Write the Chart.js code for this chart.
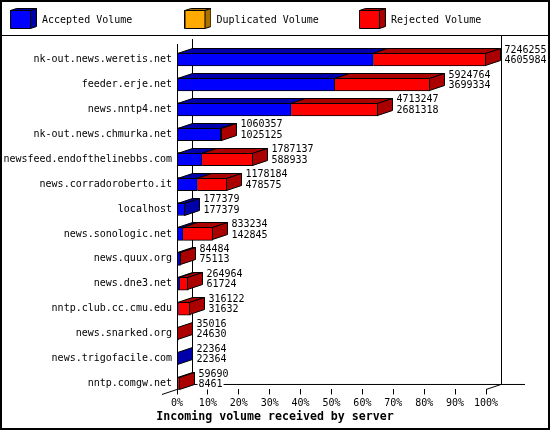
<!DOCTYPE html>
<html>
<head>
<meta charset="utf-8">
<script src="https://cdn.jsdelivr.net/npm/chart.js@4.4.1/dist/chart.umd.min.js"></script>
<style>
  html, body { margin: 0; padding: 0; background: #fff; }
  canvas { display: block; }
</style>
</head>
<body>
<canvas id="volumeChart" width="550" height="430"></canvas>
<script>
// incoming volume per feeding server (bytes)
const servers = [
  'nk-out.news.weretis.net', 'feeder.erje.net', 'news.nntp4.net',
  'nk-out.news.chmurka.net', 'newsfeed.endofthelinebbs.com',
  'news.corradoroberto.it', 'localhost', 'news.sonologic.net',
  'news.quux.org', 'news.dne3.net', 'nntp.club.cc.cmu.edu',
  'news.snarked.org', 'news.trigofacile.com', 'nntp.comgw.net'
];
const totalVolume = [7246255, 5924764, 4713247, 1060357, 1787137, 1178184, 177379,
  833234, 84484, 264964, 316122, 35016, 22364, 59690];
const acceptedVolume = [4605984, 3699334, 2681318, 1025125, 588933, 478575, 177379,
  142845, 75113, 61724, 31632, 24630, 22364, 8461];
const duplicatedVolume = [0, 0, 0, 0, 0, 0, 0, 0, 0, 0, 0, 0, 0, 0];
const percentTicks = [0, 10, 20, 30, 40, 50, 60, 70, 80, 90, 100];

const maxVolume = Math.max(...totalVolume);
const rejectedVolume = totalVolume.map((t, i) => t - acceptedVolume[i] - duplicatedVolume[i]);
const toPoints = vals => vals.map((v, i) => ({ x: v / maxVolume * 100, y: i }));

const DX = 15, DY = 5;
Chart.defaults.font.family = "'DejaVu Sans Mono', 'Liberation Mono', monospace";
Chart.defaults.font.size = 10;
Chart.defaults.color = '#000';

function cubeIcon(front, side) {
  const c = document.createElement('canvas');
  c.width = 27; c.height = 24;
  const g = c.getContext('2d');
  g.strokeStyle = '#000'; g.lineWidth = 1;
  const face = (pts, fill) => {
    g.beginPath();
    pts.forEach(([x, y], k) => k ? g.lineTo(x, y) : g.moveTo(x, y));
    g.closePath(); g.fillStyle = fill; g.fill(); g.stroke();
  };
  face([[0.5, 2.5], [20.5, 2.5], [26.5, 0.5], [6.5, 0.5]], side);
  face([[20.5, 2.5], [26.5, 0.5], [26.5, 18.5], [20.5, 20.5]], side);
  face([[0.5, 2.5], [20.5, 2.5], [20.5, 20.5], [0.5, 20.5]], front);
  return c;
}

const line = (ctx, x1, y1, x2, y2) => {
  ctx.beginPath(); ctx.moveTo(x1, y1); ctx.lineTo(x2, y2); ctx.stroke();
};

// fake 3D: walls, floor, bar tops and sides, plus the volume figures
const bar3d = {
  id: 'bar3d',
  beforeDatasetsDraw(chart) {
    const { ctx, chartArea: a, scales: { y } } = chart;
    const L = a.left, R = a.right, B = a.bottom;
    const top = y.getPixelForValue(-0.62);
    ctx.save();
    ctx.strokeStyle = '#000'; ctx.lineWidth = 1;
    line(ctx, L + DX + 0.5, top - DY, L + DX + 0.5, B - DY);
    line(ctx, R + DX + 0.5, chart.legend.bottom, R + DX + 0.5, B - DY);
    line(ctx, L + DX, B - DY, chart.width - 25, B - DY);
    line(ctx, L - DX, B + DY, L + DX, B - DY);
    line(ctx, R, B, R + DX, B - DY);
    ctx.restore();
  },
  afterDatasetsDraw(chart) {
    const { ctx, chartArea: a, scales: { y } } = chart;
    const metas = chart.getSortedVisibleDatasetMetas();
    const edge = px => Math.round(px) - 0.5;
    const face = (pts, fill) => {
      ctx.beginPath();
      pts.forEach(([px, py], k) => k ? ctx.lineTo(px, py) : ctx.moveTo(px, py));
      ctx.closePath(); ctx.fillStyle = fill; ctx.fill(); ctx.stroke();
    };
    ctx.save();
    ctx.strokeStyle = '#000'; ctx.lineWidth = 1;
    servers.forEach((name, i) => {
      let last = null;
      let x0 = a.left + 0.5;
      metas.forEach(m => {
        const ds = chart.data.datasets[m.index];
        if (ds.data[i].x <= 0) return;
        const el = m.data[i];
        const t = Math.round(el.y - el.height / 2) + 0.5;
        const x1 = edge(el.x);
        if (x1 > x0) face([[x0, t], [x1, t], [x1 + DX, t - DY], [x0 + DX, t - DY]], ds.sideColor);
        x0 = Math.max(x0, x1);
        last = { el, ds, t };
      });
      if (!last) return;
      const { el, ds, t } = last;
      const xe = edge(el.x);
      const b = Math.round(el.y + el.height / 2) - 0.5;
      face([[xe, t], [xe + DX, t - DY], [xe + DX, b - DY], [xe, b]], ds.sideColor);

      const tx = xe + DX + 4;
      const yc = el.y;
      ctx.font = "10px 'DejaVu Sans Mono', monospace";
      ctx.textBaseline = 'middle';
      [[String(totalVolume[i]), yc - 9.5], [String(acceptedVolume[i]), yc + 1]].forEach(([s, ty]) => {
        const w = ctx.measureText(s).width;
        ctx.fillStyle = '#fff';
        ctx.fillRect(tx - 1, ty - 5, w + 2, 10);
        ctx.fillStyle = '#000';
        ctx.fillText(s, tx, ty);
      });
    });
    // front wall edge over the bars
    line(ctx, a.left + 0.5, y.getPixelForValue(-0.62), a.left + 0.5, a.bottom);
    ctx.restore();
  },
  afterDraw(chart) {
    const { ctx } = chart;
    ctx.save();
    ctx.strokeStyle = '#000'; ctx.lineWidth = 1;
    line(ctx, 0, chart.legend.bottom + 0.5, chart.width, chart.legend.bottom + 0.5);
    ctx.lineWidth = 2;
    ctx.strokeRect(1, 1, chart.width - 2, chart.height - 2);
    ctx.restore();
  }
};

new Chart(document.getElementById('volumeChart'), {
  type: 'bar',
  data: {
    datasets: [
      { label: 'Accepted Volume', data: toPoints(acceptedVolume), backgroundColor: '#0000ff', sideColor: '#0000aa' },
      { label: 'Duplicated Volume', data: toPoints(duplicatedVolume), backgroundColor: '#ffaa00', sideColor: '#aa7000' },
      { label: 'Rejected Volume', data: toPoints(rejectedVolume), backgroundColor: '#ff0000', sideColor: '#aa0000' }
    ]
  },
  options: {
    indexAxis: 'y',
    responsive: false,
    animation: false,
    devicePixelRatio: 1,
    events: [],
    layout: { padding: { top: 5, left: 0, right: 0, bottom: 0 } },
    datasets: {
      bar: { barThickness: 13, borderColor: '#000', borderWidth: 1 }
    },
    scales: {
      x: {
        type: 'linear',
        stacked: true,
        min: 0,
        max: 100,
        offset: false,
        afterBuildTicks: s => { s.ticks = percentTicks.map(v => ({ value: v })); },
        afterFit: s => { s.height = 19.6; s.paddingLeft = 0; s.paddingRight = 64; },
        ticks: { callback: v => v + '%', maxRotation: 0, autoSkip: false, padding: 3 },
        grid: { drawOnChartArea: false, drawTicks: true, tickLength: 5, color: '#000' },
        border: { display: false }
      },
      y: {
        type: 'linear',
        stacked: true,
        reverse: true,
        offset: false,
        min: -0.983,
        max: 13.241,
        afterBuildTicks: s => { s.ticks = servers.map((_, i) => ({ value: i })); },
        afterFit: s => { s.width = 177; s.paddingTop = 0; s.paddingBottom = 0; },
        ticks: { callback: v => servers[v], autoSkip: false, padding: 5 },
        grid: { display: false, drawTicks: false },
        border: { display: false }
      }
    },
    plugins: {
      tooltip: { enabled: false },
      legend: {
        position: 'top',
        align: 'start',
        labels: {
          usePointStyle: true,
          pointStyleWidth: 27,
          padding: 10,
          generateLabels: chart => chart.data.datasets.map((ds, i) => ({
            text: ds.label.padEnd(22),
            pointStyle: cubeIcon(ds.backgroundColor, ds.sideColor),
            fillStyle: ds.backgroundColor,
            strokeStyle: '#000',
            lineWidth: 0,
            fontColor: '#000',
            datasetIndex: i
          }))
        }
      },
      title: {
        display: true,
        position: 'bottom',
        text: 'Incoming volume received by server',
        font: { size: 11.6, weight: 'bold', lineHeight: 1.2 },
        padding: { top: 1, bottom: 6 },
        color: '#000'
      }
    }
  },
  plugins: [bar3d]
});
</script>
</body>
</html>
